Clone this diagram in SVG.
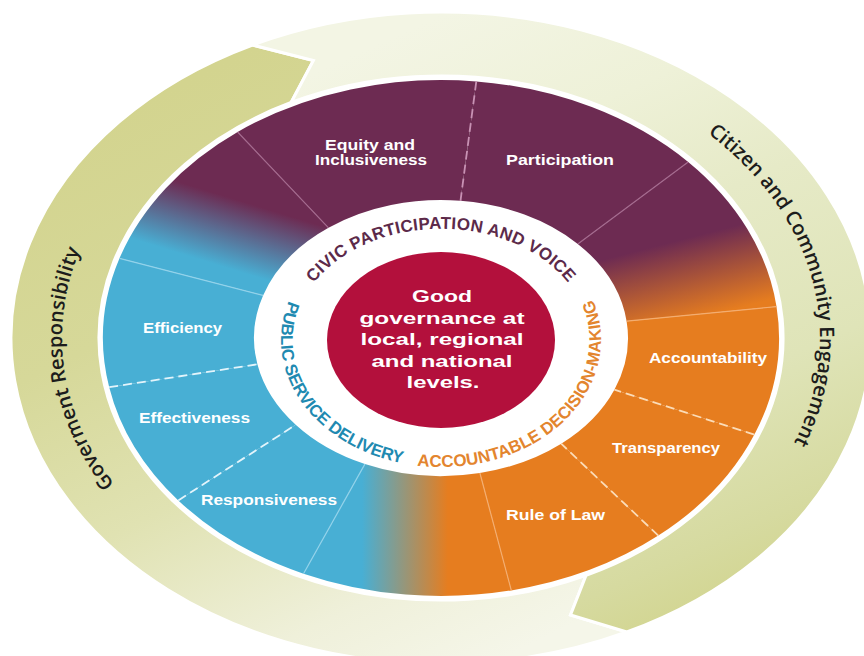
<svg xmlns="http://www.w3.org/2000/svg" width="864" height="656" viewBox="0 0 864 656">
<defs>
  <linearGradient id="gGov" gradientUnits="userSpaceOnUse" x1="230" y1="60" x2="520" y2="650">
    <stop offset="0" stop-color="#d3d48f"/>
    <stop offset="0.3" stop-color="#d6d899"/>
    <stop offset="0.57" stop-color="#e0e2b2"/>
    <stop offset="0.83" stop-color="#eff0da"/>
    <stop offset="1" stop-color="#f5f6e9"/>
  </linearGradient>
  <linearGradient id="gCit" gradientUnits="userSpaceOnUse" x1="430" y1="20" x2="700" y2="620">
    <stop offset="0" stop-color="#f3f5e4"/>
    <stop offset="0.22" stop-color="#eef1d8"/>
    <stop offset="0.42" stop-color="#e6eac7"/>
    <stop offset="0.69" stop-color="#dfe4b8"/>
    <stop offset="0.9" stop-color="#d6daa0"/>
    <stop offset="1" stop-color="#d2d590"/>
  </linearGradient>
  <linearGradient id="gBP" gradientUnits="userSpaceOnUse" x1="185" y1="255" x2="205" y2="190">
    <stop offset="0" stop-color="#48afd4"/>
    <stop offset="1" stop-color="#6d2b52"/>
  </linearGradient>
  <linearGradient id="gPO" gradientUnits="userSpaceOnUse" x1="680" y1="240" x2="700" y2="318">
    <stop offset="0" stop-color="#6d2b52"/>
    <stop offset="1" stop-color="#e67d1f"/>
  </linearGradient>
  <linearGradient id="gOB" gradientUnits="userSpaceOnUse" x1="362" y1="0" x2="448" y2="0">
    <stop offset="0" stop-color="#48afd4"/>
    <stop offset="1" stop-color="#e67d1f"/>
  </linearGradient>
  <path id="pCivic" d="M295.2,320.7 A148,111 0 0 1 586.8,320.7"/>
  <path id="pPSD" d="M288.8,300.8 A160,127 0 0 0 427.1,466.5"/>
  <path id="pACDM" d="M417.1,465.6 A160,127 0 0 0 586,286.3"/>
  <path id="pGov" d="M114.5,484.2 A379,288 0 0 1 130.5,172.8"/>
  <path id="pCit" d="M707.6,133.3 A379,288 0 0 1 769.2,482"/>
</defs>
<style>
  .arrow { stroke:#ffffff; stroke-width:3; stroke-linejoin:miter; }
  .purple { fill:#6d2b52; }
  .orange { fill:#e67d1f; }
  .blue { fill:#48afd4; }
  .lbl { font-family:"Liberation Sans", Arial, sans-serif; font-weight:bold; font-size:14px; fill:#ffffff; text-anchor:middle; }
  .ctr { font-family:"Liberation Sans", Arial, sans-serif; font-weight:bold; font-size:16.5px; fill:#ffffff; text-anchor:middle; }
  .ring { font-family:"Liberation Sans", Arial, sans-serif; font-weight:bold; font-size:17px; }
  .band { font-family:"Open Sans", "Liberation Sans", sans-serif; font-weight:600; font-size:20px; fill:#1c1c1c; }
  .solid { fill:none; stroke-width:1.2; }
  .dash { fill:none; stroke-width:1.8; stroke-dasharray:9 5; }
</style>

<g id="connectors">
  <g id="arrow-government">
    <path class="arrow" fill="url(#gGov)" d="M626.8,632 A430,326 0 0 1 68.6,501 A430,326 0 0 1 252.5,45 L313.4,60.5 L291.1,102.5 A342,262 0 0 0 144.8,469 A342,262 0 0 0 586.1,575.3 L570.5,615 Z"/>
    <text class="band"><textPath href="#pGov">Goverment Responsibility</textPath></text>
  </g>
  <g id="arrow-citizen">
    <path class="arrow" fill="url(#gCit)" d="M252.5,45 A430,326 0 0 1 827.5,195.1 A430,326 0 0 1 626.8,632 L570.5,615 L586.1,575.3 A342,262 0 0 0 748.4,223.1 A342,262 0 0 0 291.1,102.5 L313.4,60.5 Z"/>
    <text class="band"><textPath href="#pCit">Citizen and Community Engagement</textPath></text>
  </g>
</g>

<g id="ring">
  <g id="seg-equity">
    <path class="purple" d="M237.6,132 A338,258 0 0 1 476.3,81.4 L460.5,200.8 A187,138 0 0 0 328.5,227.8 Z"/>
    <text class="lbl" x="370" y="150" textLength="90" lengthAdjust="spacingAndGlyphs">Equity and</text>
    <text class="lbl" x="371" y="165" textLength="112" lengthAdjust="spacingAndGlyphs">Inclusiveness</text>
  </g>
  <g id="seg-participation">
    <path class="purple" d="M476.3,81.4 A338,258 0 0 1 688.2,162 L577.8,243.9 A187,138 0 0 0 460.5,200.8 Z"/>
    <text class="lbl" x="560" y="165" textLength="108" lengthAdjust="spacingAndGlyphs">Participation</text>
  </g>
  <g id="seg-blend-po">
    <path fill="url(#gPO)" d="M688.2,162 A338,258 0 0 1 776.5,306.6 L626.6,321.2 A187,138 0 0 0 577.8,243.9 Z"/>
  </g>
  <g id="seg-accountability">
    <path class="orange" d="M776.5,306.6 A338,258 0 0 1 754.4,434.6 L614.4,389.7 A187,138 0 0 0 626.6,321.2 Z"/>
    <text class="lbl" x="708" y="363" textLength="118" lengthAdjust="spacingAndGlyphs">Accountability</text>
  </g>
  <g id="seg-transparency">
    <path class="orange" d="M754.4,434.6 A338,258 0 0 1 658.3,535.6 L561.2,443.7 A187,138 0 0 0 614.4,389.7 Z"/>
    <text class="lbl" x="666" y="453" textLength="108" lengthAdjust="spacingAndGlyphs">Transparency</text>
  </g>
  <g id="seg-ruleoflaw">
    <path class="orange" d="M658.3,535.6 A338,258 0 0 1 511.3,590.4 L479.9,473 A187,138 0 0 0 561.2,443.7 Z"/>
    <text class="lbl" x="555.5" y="520" textLength="99" lengthAdjust="spacingAndGlyphs">Rule of Law</text>
  </g>
  <g id="seg-blend-ob">
    <path fill="url(#gOB)" d="M511.3,590.4 A338,258 0 0 1 303.5,573.7 L364.9,464.1 A187,138 0 0 0 479.9,473 Z"/>
  </g>
  <g id="seg-responsiveness">
    <path class="blue" d="M303.5,573.7 A338,258 0 0 1 178.3,500.4 L295.7,424.8 A187,138 0 0 0 364.9,464.1 Z"/>
    <text class="lbl" x="269" y="505" textLength="136" lengthAdjust="spacingAndGlyphs">Responsiveness</text>
  </g>
  <g id="seg-effectiveness">
    <path class="blue" d="M178.3,500.4 A338,258 0 0 1 109.2,387.2 L257.4,364.3 A187,138 0 0 0 295.7,424.8 Z"/>
    <text class="lbl" x="194.5" y="423" textLength="111" lengthAdjust="spacingAndGlyphs">Effectiveness</text>
  </g>
  <g id="seg-efficiency">
    <path class="blue" d="M109.2,387.2 A338,258 0 0 1 119.5,258.3 L263.1,295.4 A187,138 0 0 0 257.4,364.3 Z"/>
    <text class="lbl" x="182.5" y="333" textLength="79" lengthAdjust="spacingAndGlyphs">Efficiency</text>
  </g>
  <g id="seg-blend-bp">
    <path fill="url(#gBP)" d="M119.5,258.3 A338,258 0 0 1 237.6,132 L328.5,227.8 A187,138 0 0 0 263.1,295.4 Z"/>
  </g>
</g>

<g id="dividers">
  <line class="solid" stroke="#a46a8e" x1="237.6" y1="132" x2="328.5" y2="227.8"/>
  <line class="dash" stroke="#c892b4" x1="476.3" y1="81.4" x2="460.5" y2="200.8"/>
  <line class="solid" stroke="#a46a8e" x1="688.2" y1="162" x2="577.8" y2="243.9"/>
  <line class="solid" stroke="#f3ad70" x1="776.5" y1="306.6" x2="626.6" y2="321.2"/>
  <line class="dash" stroke="#fbdcb8" x1="754.4" y1="434.6" x2="614.4" y2="389.7"/>
  <line class="dash" stroke="#fbdcb8" x1="658.3" y1="535.6" x2="561.2" y2="443.7"/>
  <line class="solid" stroke="#f3ad70" x1="511.3" y1="590.4" x2="479.9" y2="473"/>
  <line class="solid" stroke="#92d2ea" x1="303.5" y1="573.7" x2="364.9" y2="464.1"/>
  <line class="dash" stroke="#e3f4fb" x1="178.3" y1="500.4" x2="295.7" y2="424.8"/>
  <line class="dash" stroke="#e3f4fb" x1="109.2" y1="387.2" x2="257.4" y2="364.3"/>
  <line class="solid" stroke="#92d2ea" x1="119.5" y1="258.3" x2="263.1" y2="295.4"/>
</g>

<g id="ring-titles">
  <text class="ring" fill="#5c2a4a" letter-spacing="0.3" text-anchor="middle"><textPath href="#pCivic" startOffset="50%">CIVIC PARTICIPATION AND VOICE</textPath></text>
  <text class="ring" fill="#1f8ab1" font-size="16.5" letter-spacing="-0.2"><textPath href="#pPSD">PUBLIC SERVICE DELIVERY</textPath></text>
  <text class="ring" fill="#e3852e"><textPath href="#pACDM">ACCOUNTABLE DECISION-MAKING</textPath></text>
</g>

<g id="center">
  <ellipse cx="441" cy="340" rx="114" ry="88" fill="#b3103c"/>
  <text class="ctr" x="442" y="302" textLength="60" lengthAdjust="spacingAndGlyphs">Good</text>
  <text class="ctr" x="442" y="323.5" textLength="165" lengthAdjust="spacingAndGlyphs">governance at</text>
  <text class="ctr" x="442" y="345" textLength="163" lengthAdjust="spacingAndGlyphs">local, regional</text>
  <text class="ctr" x="442" y="366.5" textLength="141" lengthAdjust="spacingAndGlyphs">and national</text>
  <text class="ctr" x="443" y="388" textLength="73" lengthAdjust="spacingAndGlyphs">levels.</text>
</g>
</svg>
